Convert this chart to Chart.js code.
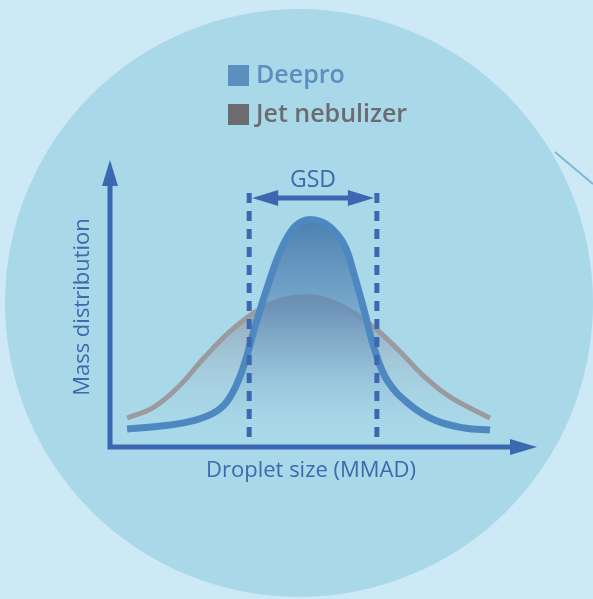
<!DOCTYPE html>
<html>
<head>
<meta charset="utf-8">
<script src="https://cdn.jsdelivr.net/npm/chart.js@4"></script>
<style>
  html, body { margin: 0; padding: 0; background: #cde9f5; }
  #wrap { width: 593px; height: 599px; }
</style>
</head>
<body>
<div id="wrap"><canvas id="sizeChart" width="593" height="599"></canvas></div>
<script>
// droplet size (arbitrary units 0-100) and mass distribution (0-100)
const deeproX = [4, 12, 20, 25, 28, 31, 34, 37, 40, 43, 46, 49, 52, 55, 57, 59.5, 62, 65, 70, 76, 83, 89];
const deeproY = [6.3, 7.3, 9.4, 12.5, 17.1, 26.8, 42.2, 56.4, 68.6, 76.3, 79.1, 78.7, 76.0, 70.0, 61.0, 47.7, 33.8, 23.0, 15.0, 9.4, 6.6, 5.9];
const jetX = [4, 10, 16, 22, 28, 34, 40, 45, 50, 56, 62, 68, 74, 80, 89];
const jetY = [10.1, 13.6, 20.9, 31.0, 40.1, 47.0, 51.2, 52.3, 51.6, 47.7, 41.5, 33.1, 24.0, 17.1, 10.1];
const gsdBounds = [32.6, 62.5];
const gsdSpan = [3.5, 91.3];
const gsdArrowY = 86.8;
const seriesNames = ['Deepro', 'Jet nebulizer'];

const toPoints = (xs, ys) => xs.map((x, i) => ({ x: x, y: ys[i] }));

function fillGrad(top, bottom, stops) {
    return function (ctx) {
        const chart = ctx.chart;
        if (!chart.chartArea) return stops[0][1];
        const y = chart.scales.y;
        const g = chart.ctx.createLinearGradient(0, y.getPixelForValue(top), 0, y.getPixelForValue(bottom));
        stops.forEach(s => g.addColorStop(s[0], s[1]));
        return g;
    };
}

const decor = {
    id: 'decor',
    beforeDraw(chart) {
        const c = chart.ctx;
        c.save();
        c.fillStyle = '#cde9f5';
        c.fillRect(0, 0, chart.width, chart.height);
        c.fillStyle = '#a9d8e8';
        c.beginPath();
        c.arc(299, 303, 294, 0, Math.PI * 2);
        c.fill();
        c.strokeStyle = '#7bb9d4';
        c.lineWidth = 2;
        c.beginPath();
        c.moveTo(555, 152);
        c.lineTo(593, 184);
        c.stroke();
        c.restore();
    },
    beforeDatasetsDraw(chart) {
        const c = chart.ctx;
        const a = chart.chartArea;
        c.save();
        c.strokeStyle = '#3b68b0';
        c.fillStyle = '#3b68b0';
        c.lineWidth = 5;
        c.beginPath();
        c.moveTo(a.left, a.top + 20);
        c.lineTo(a.left, a.bottom);
        c.lineTo(a.right - 20, a.bottom);
        c.stroke();
        c.beginPath();
        c.moveTo(a.left, a.top);
        c.lineTo(a.left - 8, a.top + 26);
        c.lineTo(a.left + 8, a.top + 26);
        c.closePath();
        c.fill();
        c.beginPath();
        c.moveTo(a.right, a.bottom);
        c.lineTo(a.right - 27, a.bottom - 8);
        c.lineTo(a.right - 27, a.bottom + 8);
        c.closePath();
        c.fill();

        c.fillStyle = '#3d69ae';
        c.font = '500 22px "Open Sans"';
        c.textAlign = 'center';
        c.textBaseline = 'middle';
        c.fillText('Droplet size (MMAD)', 311, 471);
        c.translate(83, 307);
        c.rotate(-Math.PI / 2);
        c.fillText('Mass distribution', 0, 0);
        c.restore();
    },
    afterDatasetsDraw(chart) {
        const c = chart.ctx;
        const xs = chart.scales.x, ys = chart.scales.y;
        const x1 = xs.getPixelForValue(gsdBounds[0]) + 3;
        const x2 = xs.getPixelForValue(gsdBounds[1]) - 3;
        const yA = ys.getPixelForValue(gsdArrowY);
        c.save();
        c.strokeStyle = '#3b68b0';
        c.fillStyle = '#3b68b0';
        c.lineWidth = 5;
        c.beginPath();
        c.moveTo(x1 + 20, yA);
        c.lineTo(x2 - 20, yA);
        c.stroke();
        c.beginPath();
        c.moveTo(x1, yA);
        c.lineTo(x1 + 26, yA - 8);
        c.lineTo(x1 + 26, yA + 8);
        c.closePath();
        c.fill();
        c.beginPath();
        c.moveTo(x2, yA);
        c.lineTo(x2 - 26, yA - 8);
        c.lineTo(x2 - 26, yA + 8);
        c.closePath();
        c.fill();
        c.fillStyle = '#3d69ae';
        c.font = '500 23px "Open Sans"';
        c.textAlign = 'center';
        c.textBaseline = 'middle';
        c.fillText('GSD', (x1 + x2) / 2, 180);

        // legend
        const cols = ['#5a8fc0', '#6b6b70'];
        c.font = '600 25px "Open Sans"';
        c.textAlign = 'left';
        seriesNames.forEach((name, i) => {
            const y = 75 + i * 39;
            c.fillStyle = cols[i];
            c.fillRect(228, y - 10, 21, 21);
            c.fillText(name, 256, y + 1);
        });
        c.restore();
    }
};

new Chart(document.getElementById('sizeChart'), {
    type: 'line',
    data: {
        datasets: [
            {
                data: toPoints([gsdBounds[0], gsdBounds[0]], gsdSpan),
                borderColor: '#3b68b0',
                borderWidth: 5,
                borderDash: [10, 8],
                fill: false,
                pointRadius: 0
            },
            {
                data: toPoints([gsdBounds[1], gsdBounds[1]], gsdSpan),
                borderColor: '#3b68b0',
                borderWidth: 5,
                borderDash: [10, 8],
                fill: false,
                pointRadius: 0
            },
            {
                label: seriesNames[0],
                data: toPoints(deeproX, deeproY),
                borderColor: '#4d89c0',
                borderWidth: 7,
                backgroundColor: fillGrad(80, 6, [[0, 'rgba(72,122,172,0.95)'], [0.45, 'rgba(88,140,188,0.6)'], [1, 'rgba(130,185,220,0)']]),
                fill: 'origin',
                tension: 0.4,
                pointRadius: 0
            },
            {
                label: seriesNames[1],
                data: toPoints(jetX, jetY),
                borderColor: '#9b9b9f',
                borderWidth: 5,
                backgroundColor: fillGrad(52, 6, [[0, 'rgba(140,145,165,0.85)'], [1, 'rgba(168,216,232,0)']]),
                fill: 'origin',
                tension: 0.4,
                pointRadius: 0
            }
        ]
    },
    options: {
        responsive: false,
        animation: false,
        layout: { padding: { left: 110, right: 56, top: 160, bottom: 152 } },
        plugins: { legend: { display: false }, tooltip: { enabled: false } },
        scales: {
            x: { type: 'linear', min: 0, max: 100, display: false },
            y: { min: 0, max: 100, display: false }
        }
    },
    plugins: [decor]
});
</script>
</body>
</html>
